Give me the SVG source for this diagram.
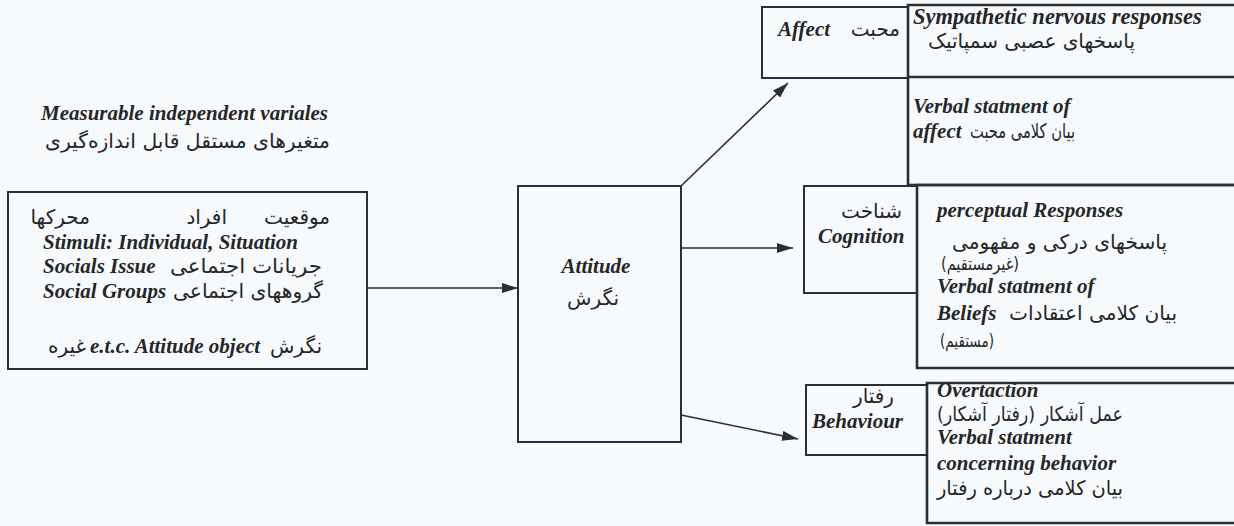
<svg xmlns="http://www.w3.org/2000/svg" width="1234" height="526" viewBox="0 0 1234 526">
<defs>
<style>
.en{font-family:"Liberation Serif","Times New Roman",serif;font-weight:bold;font-style:italic;font-size:21px;fill:#262626}
.fa{font-family:"DejaVu Sans",sans-serif;font-size:20px;fill:#262626;direction:rtl;unicode-bidi:embed}
.sm{font-size:18px}
.box{fill:none;stroke:#2e2e2e;stroke-width:2}
.thick{fill:none;stroke:#2e2e2e;stroke-width:2.6}
.conn{fill:none;stroke:#2e2e2e;stroke-width:1.6;marker-end:url(#ah)}
</style>
<marker id="ah" markerUnits="userSpaceOnUse" markerWidth="16" markerHeight="10" refX="16" refY="5" orient="auto">
<path d="M0,0 L16,5 L0,10 z" fill="#2e2e2e"/>
</marker>
</defs>
<rect x="0" y="0" width="1234" height="526" fill="#f7fafd"/>

<g id="title">
<text class="en" x="41" y="120">Measurable independent variales</text>
<text class="fa" x="330" y="148" text-anchor="start" textLength="285" lengthAdjust="spacingAndGlyphs">متغیرهای مستقل قابل اندازه‌گیری</text>
</g>

<g id="stimuli">
<rect class="box" x="8" y="192" width="359" height="177"/>
<text class="fa" x="330" y="224" text-anchor="start">موقعیت</text>
<text class="fa" x="227" y="224" text-anchor="start">افراد</text>
<text class="fa" x="90" y="224" text-anchor="start">محرکها</text>
<text class="en" x="43" y="249">Stimuli: Individual, Situation</text>
<text class="en" x="43" y="273">Socials Issue</text>
<text class="fa" x="322" y="273" text-anchor="start" textLength="152" lengthAdjust="spacingAndGlyphs">جریانات اجتماعی</text>
<text class="en" x="43" y="298">Social Groups</text>
<text class="fa" x="323" y="298" text-anchor="start" textLength="150" lengthAdjust="spacingAndGlyphs">گروههای اجتماعی</text>
<text class="fa" x="86" y="353" text-anchor="start">غیره</text>
<text class="en" x="90" y="353">e.t.c. Attitude object</text>
<text class="fa" x="322" y="353" text-anchor="start">نگرش</text>
</g>

<g id="attitude">
<rect class="box" x="518" y="186" width="163" height="256"/>
<text class="en" x="596" y="273" text-anchor="middle">Attitude</text>
<text class="fa" x="593" y="305" text-anchor="middle">نگرش</text>
</g>

<g id="affect">
<rect class="box" x="762" y="7" width="146" height="71"/>
<text class="en" x="778" y="36">Affect</text>
<text class="fa" x="900" y="36" text-anchor="start">محبت</text>
</g>

<g id="affect-responses">
<path class="thick" d="M1240,5 H908 V185 H1240 M908,77 H1240"/>
<text class="en" x="913" y="24" style="font-size:22.5px">Sympathetic nervous responses</text>
<text class="fa" x="1135" y="48" text-anchor="start">پاسخهای عصبی سمپاتیک</text>
<text class="en" x="913" y="113">Verbal statment of</text>
<text class="en" x="913" y="138">affect</text>
<text class="fa" x="1075" y="138" text-anchor="start" textLength="105" lengthAdjust="spacingAndGlyphs">بیان کلامی محبت</text>
</g>

<g id="cognition">
<rect class="box" x="804" y="186" width="113" height="107"/>
<text class="fa" x="902" y="218" text-anchor="start">شناخت</text>
<text class="en" x="818" y="243">Cognition</text>
</g>

<g id="cognition-responses">
<path class="thick" d="M1240,185 H917 V368 H1240"/>
<text class="en" x="937" y="217">perceptual Responses</text>
<text class="fa" x="1167" y="249" text-anchor="start" textLength="215" lengthAdjust="spacingAndGlyphs">پاسخهای درکی و مفهومی</text>
<text class="fa sm" x="1019" y="270" text-anchor="start" textLength="78" lengthAdjust="spacingAndGlyphs">(غیرمستقیم)</text>
<text class="en" x="937" y="293">Verbal statment of</text>
<text class="en" x="937" y="320">Beliefs</text>
<text class="fa" x="1177" y="320" text-anchor="start" textLength="168" lengthAdjust="spacingAndGlyphs">بیان کلامی اعتقادات</text>
<text class="fa sm" x="994" y="347" text-anchor="start" textLength="54" lengthAdjust="spacingAndGlyphs">(مستقیم)</text>
</g>

<g id="behaviour">
<rect class="box" x="806" y="385" width="121" height="70"/>
<text class="fa" x="894" y="403" text-anchor="start">رفتار</text>
<text class="en" x="812" y="428">Behaviour</text>
</g>

<g id="behaviour-responses">
<path class="thick" d="M1240,383 H927 V523 H1240"/>
<text class="en" x="937" y="397">Overtaction</text>
<text class="fa" x="1123" y="421" text-anchor="start" textLength="186" lengthAdjust="spacingAndGlyphs">عمل آشکار (رفتار آشکار)</text>
<text class="en" x="937" y="444">Verbal statment</text>
<text class="en" x="937" y="470">concerning behavior</text>
<text class="fa" x="1123" y="495" text-anchor="start" textLength="186" lengthAdjust="spacingAndGlyphs">بیان کلامی درباره رفتار</text>
</g>

<g id="connectors">
<line class="conn" x1="367" y1="288" x2="518" y2="288"/>
<line class="conn" x1="681" y1="186" x2="788" y2="83"/>
<line class="conn" x1="681" y1="248" x2="793" y2="248"/>
<line class="conn" x1="681" y1="415" x2="798" y2="439"/>
</g>
</svg>
